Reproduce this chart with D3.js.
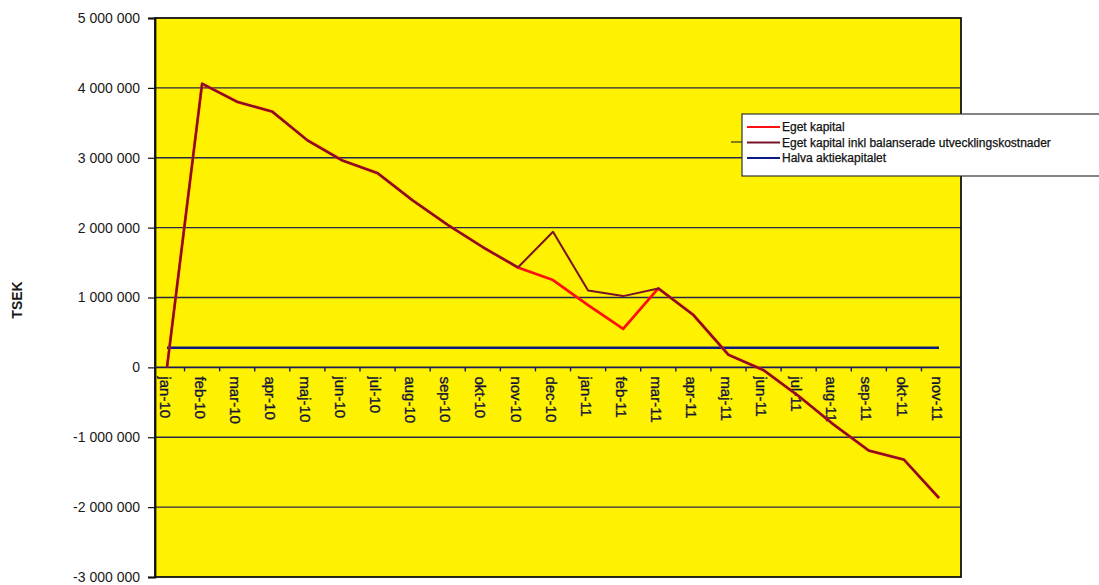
<!DOCTYPE html>
<html>
<head>
<meta charset="utf-8">
<script src="https://cdn.jsdelivr.net/npm/d3@7"></script>
<style>
  html, body { margin: 0; padding: 0; background: #ffffff; }
  svg { display: block; font-family: "Liberation Sans", Arial, sans-serif; }
</style>
</head>
<body>
<svg id="chart" width="1099" height="585"></svg>
<script>
const categories = ["jan-10","feb-10","mar-10","apr-10","maj-10","jun-10","jul-10","aug-10","sep-10","okt-10","nov-10","dec-10",
  "jan-11","feb-11","mar-11","apr-11","maj-11","jun-11","jul-11","aug-11","sep-11","okt-11","nov-11"];
const egetKapital = [0, 4060000, 3800000, 3660000, 3250000, 2960000, 2780000, 2390000, 2040000, 1720000, 1430000, 1250000,
  890000, 550000, 1130000, 750000, 180000, -40000, -410000, -820000, -1190000, -1320000, -1870000];
const egetKapitalInkl = [0, 4060000, 3800000, 3660000, 3250000, 2960000, 2780000, 2390000, 2040000, 1720000, 1430000, 1940000,
  1100000, 1020000, 1130000, 750000, 180000, -40000, -410000, -820000, -1190000, -1320000, -1870000];
const halvaAktiekapitalet = categories.map(() => 280000);
const yTickValues = [5000000, 4000000, 3000000, 2000000, 1000000, 0, -1000000, -2000000, -3000000];
const yTickLabels = ["5 000 000","4 000 000","3 000 000","2 000 000","1 000 000","0","-1 000 000","-2 000 000","-3 000 000"];
const seriesNames = ["Eget kapital", "Eget kapital inkl balanserade utvecklingskostnader", "Halva aktiekapitalet"];
const yTitle = "TSEK";

const svg = d3.select("#chart");
const plot = {left: 155, right: 961, top: 18, bottom: 577};

const x = d3.scalePoint().domain(categories).range([167, 939]);
const step = x.step();
const y = d3.scaleLinear().domain([-3000000, 5000000]).range([plot.bottom, plot.top]);

// plot background
svg.append("rect").attr("x", plot.left).attr("y", plot.top)
  .attr("width", plot.right - plot.left).attr("height", plot.bottom - plot.top)
  .attr("fill", "#fff200");

// gridlines
svg.append("g").selectAll("line").data(yTickValues.filter(v => v !== 5000000 && v !== -3000000 && v !== 0))
  .join("line")
  .attr("x1", plot.left).attr("x2", plot.right)
  .attr("y1", d => y(d)).attr("y2", d => y(d))
  .attr("stroke", "#26264a").attr("stroke-width", 1.4);

// plot border
svg.append("rect").attr("x", plot.left).attr("y", plot.top)
  .attr("width", plot.right - plot.left).attr("height", plot.bottom - plot.top)
  .attr("fill", "none").attr("stroke", "#111").attr("stroke-width", 1.8);

// y axis
const yAxis = d3.axisLeft(y).tickValues(yTickValues)
  .tickFormat((d, i) => yTickLabels[i]).tickSize(7).tickPadding(8);
const gy = svg.append("g").attr("transform", `translate(${plot.left},0)`).call(yAxis);
gy.select(".domain").attr("stroke", "#111").attr("stroke-width", 1.8);
gy.selectAll(".tick line").attr("stroke", "#111").attr("stroke-width", 1.2);
gy.selectAll(".tick text").attr("font-size", 14).attr("fill", "#1a1a1a")
  .attr("font-family", "'Liberation Sans', Arial, sans-serif");

// x axis at zero
const xAxisG = svg.append("g").attr("transform", `translate(0,${y(0)})`);
xAxisG.append("line").attr("x1", plot.left).attr("x2", plot.right).attr("y1", 0).attr("y2", 0)
  .attr("stroke", "#1a1a5a").attr("stroke-width", 1.8);
xAxisG.selectAll("line.tk").data(categories.slice(0, -1)).join("line").attr("class", "tk")
  .attr("x1", d => x(d) + step / 2).attr("x2", d => x(d) + step / 2)
  .attr("y1", 0).attr("y2", 4).attr("stroke", "#1a1a5a").attr("stroke-width", 1.4);
xAxisG.selectAll("text").data(categories).join("text")
  .attr("transform", d => `translate(${x(d) - 2},9) rotate(90)`)
  .attr("dy", "0.36em")
  .attr("text-anchor", "start")
  .attr("font-size", 15)
  .attr("fill", "#14143a")
  .attr("stroke", "#14143a").attr("stroke-width", 0.35)
  .text(d => d);

// lines
const line = d3.line().x((d, i) => x(categories[i])).y(d => y(d));
svg.append("path").datum(halvaAktiekapitalet).attr("d", line)
  .attr("fill", "none").attr("stroke", "#0a1a80").attr("stroke-width", 2.6);
svg.append("path").datum(egetKapital).attr("d", line)
  .attr("fill", "none").attr("stroke", "#ff1010").attr("stroke-width", 2.8).attr("stroke-linejoin", "round");
svg.append("path").datum(egetKapitalInkl).attr("d", line)
  .attr("fill", "none").attr("stroke", "#7a1228").attr("stroke-width", 2.0).attr("stroke-linejoin", "round");

// y title
svg.append("text").attr("transform", "translate(22,300) rotate(-90)")
  .attr("text-anchor", "middle").attr("font-size", 14).attr("font-weight", "bold")
  .attr("fill", "#1a1a1a").text(yTitle);

// legend
const lg = svg.append("g");
lg.append("line").attr("x1", 731).attr("x2", 742).attr("y1", 142).attr("y2", 142)
  .attr("stroke", "#333").attr("stroke-width", 1.2);
lg.append("rect").attr("x", 742).attr("y", 114).attr("width", 360).attr("height", 62)
  .attr("fill", "#ffffff").attr("stroke", "#333").attr("stroke-width", 1.2);
const legColors = ["#ff1010", "#7a1228", "#0a1a80"];
const legY = d3.scalePoint().domain(seriesNames).range([127, 158]);
seriesNames.forEach((name, i) => {
  lg.append("line").attr("x1", 747).attr("x2", 780).attr("y1", legY(name)).attr("y2", legY(name))
    .attr("stroke", legColors[i]).attr("stroke-width", 2);
  lg.append("text").attr("x", 782).attr("y", legY(name)).attr("dy", "0.36em")
    .attr("font-size", 12).attr("fill", "#111")
    .attr("stroke", "#111").attr("stroke-width", 0.25).text(name);
});
</script>
</body>
</html>
